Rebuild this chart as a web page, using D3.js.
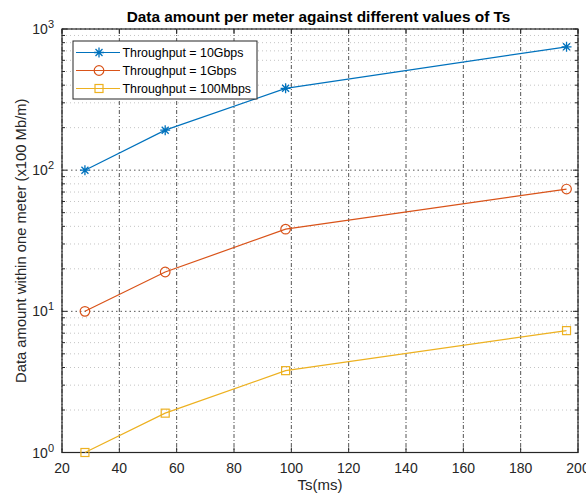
<!DOCTYPE html>
<head>
    <meta charset="utf-8">
    <script src="https://d3js.org/d3.v7.min.js"></script>
</head>
<style>
    body { margin: 0; background: #fff; }
    text { font-family: "Liberation Sans", Arial, sans-serif; }
</style>
<body>
    <div id="chart"></div>
</body>

<script>
    // data
    const ts = [28, 56, 98, 196];
    const tp10G = [100, 192, 380, 748];
    const tp1G = [10, 19, 38.2, 73.5];
    const tp100M = [1, 1.9, 3.8, 7.3];
    const seriesNames = ["Throughput = 10Gbps", "Throughput = 1Gbps", "Throughput = 100Mbps"];
    const xTicks = [20, 40, 60, 80, 100, 120, 140, 160, 180, 200];
    const yDecades = [1, 10, 100, 1000];

    const W = 586, H = 495;
    const margin = {top: 29, right: 8, bottom: 42.5, left: 62};
    const width = W - margin.left - margin.right,
        height = H - margin.top - margin.bottom;

    const svg = d3.select("#chart")
        .append("svg")
        .attr("width", W)
        .attr("height", H);

    const g = svg.append("g")
        .attr("transform", `translate(${margin.left},${margin.top})`);

    const x = d3.scaleLinear().domain([20, 200]).range([0, width]);
    const y = d3.scaleLog().domain([1, 1000]).range([height, 0]);

    // minor log values
    let minor = [];
    yDecades.slice(0, -1).forEach(d => {
        for (let k = 2; k <= 9; k++) minor.push(d * k);
    });

    // grid
    g.selectAll(".minorgrid")
        .data(minor)
        .join("line")
        .attr("x1", 0).attr("x2", width)
        .attr("y1", d => y(d)).attr("y2", d => y(d))
        .attr("stroke", "#c4c4c4")
        .attr("stroke-width", 1)
        .attr("stroke-dasharray", "1,3");

    g.selectAll(".majorgrid")
        .data(yDecades)
        .join("line")
        .attr("x1", 0).attr("x2", width)
        .attr("y1", d => y(d)).attr("y2", d => y(d))
        .attr("stroke", "#555")
        .attr("stroke-width", 1)
        .attr("stroke-dasharray", "1.5,3");

    g.selectAll(".xgrid")
        .data(xTicks)
        .join("line")
        .attr("x1", d => x(d)).attr("x2", d => x(d))
        .attr("y1", 0).attr("y2", height)
        .attr("stroke", "#555")
        .attr("stroke-width", 1)
        .attr("stroke-dasharray", "4,2,1,2");

    // box + inside ticks
    g.append("rect")
        .attr("width", width).attr("height", height)
        .attr("fill", "none")
        .attr("stroke", "#262626")
        .attr("stroke-width", 1.2);

    g.selectAll(".xt")
        .data(xTicks)
        .join("path")
        .attr("d", d => `M${x(d)},${height}v-5M${x(d)},0v5`)
        .attr("stroke", "#262626");

    g.selectAll(".yt")
        .data(yDecades)
        .join("path")
        .attr("d", d => `M0,${y(d)}h5M${width},${y(d)}h-5`)
        .attr("stroke", "#262626");

    g.selectAll(".ymt")
        .data(minor)
        .join("path")
        .attr("d", d => `M0,${y(d)}h3M${width},${y(d)}h-3`)
        .attr("stroke", "#262626");

    // tick labels
    g.selectAll(".xl")
        .data(xTicks)
        .join("text")
        .attr("x", d => x(d))
        .attr("y", height + 20)
        .attr("text-anchor", "middle")
        .attr("font-size", 14)
        .attr("fill", "#262626")
        .text(d => d);

    const yl = g.selectAll(".yl")
        .data(yDecades)
        .join("text")
        .attr("x", -8)
        .attr("y", d => y(d) + 5)
        .attr("text-anchor", "end")
        .attr("font-size", 14)
        .attr("fill", "#262626");
    yl.append("tspan").text("10");
    yl.append("tspan")
        .attr("dy", -6)
        .attr("font-size", 11)
        .text(d => Math.round(Math.log10(d)));

    // axis titles
    svg.append("text")
        .attr("x", margin.left + width / 2)
        .attr("y", 490)
        .attr("text-anchor", "middle")
        .attr("font-size", 15)
        .attr("fill", "#262626")
        .text("Ts(ms)");

    svg.append("text")
        .attr("transform", `translate(26,${margin.top + height / 2}) rotate(-90)`)
        .attr("text-anchor", "middle")
        .attr("font-size", 14.8)
        .attr("fill", "#262626")
        .text("Data amount within one meter (x100 Mb/m)");

    svg.append("text")
        .attr("x", 318.5)
        .attr("y", 22)
        .attr("text-anchor", "middle")
        .attr("font-size", 15.4)
        .attr("font-weight", "bold")
        .attr("fill", "#000")
        .text("Data amount per meter against different values of Ts");

    // series
    const colors = ["#0072BD", "#D95319", "#EDB120"];
    const series = [tp10G, tp1G, tp100M].map((vals, i) => ({
        name: seriesNames[i],
        color: colors[i],
        marker: ["star", "circle", "square"][i],
        points: vals.map((v, j) => ({x: ts[j], y: v}))
    }));

    const line = d3.line().x(d => x(d.x)).y(d => y(d.y));

    function drawMarker(sel, type, color) {
        if (type === "star") {
            sel.append("path")
                .attr("d", "M-5,0H5M0,-5V5M-3.5,-3.5L3.5,3.5M-3.5,3.5L3.5,-3.5")
                .attr("stroke", color).attr("stroke-width", 1.3).attr("fill", "none");
        } else if (type === "circle") {
            sel.append("circle").attr("r", 4.8)
                .attr("stroke", color).attr("stroke-width", 1.2).attr("fill", "none");
        } else {
            sel.append("rect").attr("x", -4).attr("y", -4).attr("width", 8).attr("height", 8)
                .attr("stroke", color).attr("stroke-width", 1.2).attr("fill", "none");
        }
    }

    series.forEach(s => {
        g.append("path")
            .datum(s.points)
            .attr("d", line)
            .attr("fill", "none")
            .attr("stroke", s.color)
            .attr("stroke-width", 1.2);
        s.points.forEach(p => {
            const m = g.append("g").attr("transform", `translate(${x(p.x)},${y(p.y)})`);
            drawMarker(m, s.marker, s.color);
        });
    });

    // legend
    const lg = svg.append("g").attr("transform", "translate(73,41)");
    lg.append("rect")
        .attr("width", 184).attr("height", 58)
        .attr("fill", "#fff")
        .attr("stroke", "#262626")
        .attr("stroke-width", 1);
    series.forEach((s, i) => {
        const row = lg.append("g").attr("transform", `translate(0,${11.5 + i * 18})`);
        row.append("line")
            .attr("x1", 3).attr("x2", 47)
            .attr("stroke", s.color).attr("stroke-width", 1.2);
        const m = row.append("g").attr("transform", "translate(26,0)");
        drawMarker(m, s.marker, s.color);
        row.append("text")
            .attr("x", 49.5).attr("y", 4.5)
            .attr("font-size", 12.4)
            .attr("fill", "#000")
            .text(s.name);
    });
</script>
